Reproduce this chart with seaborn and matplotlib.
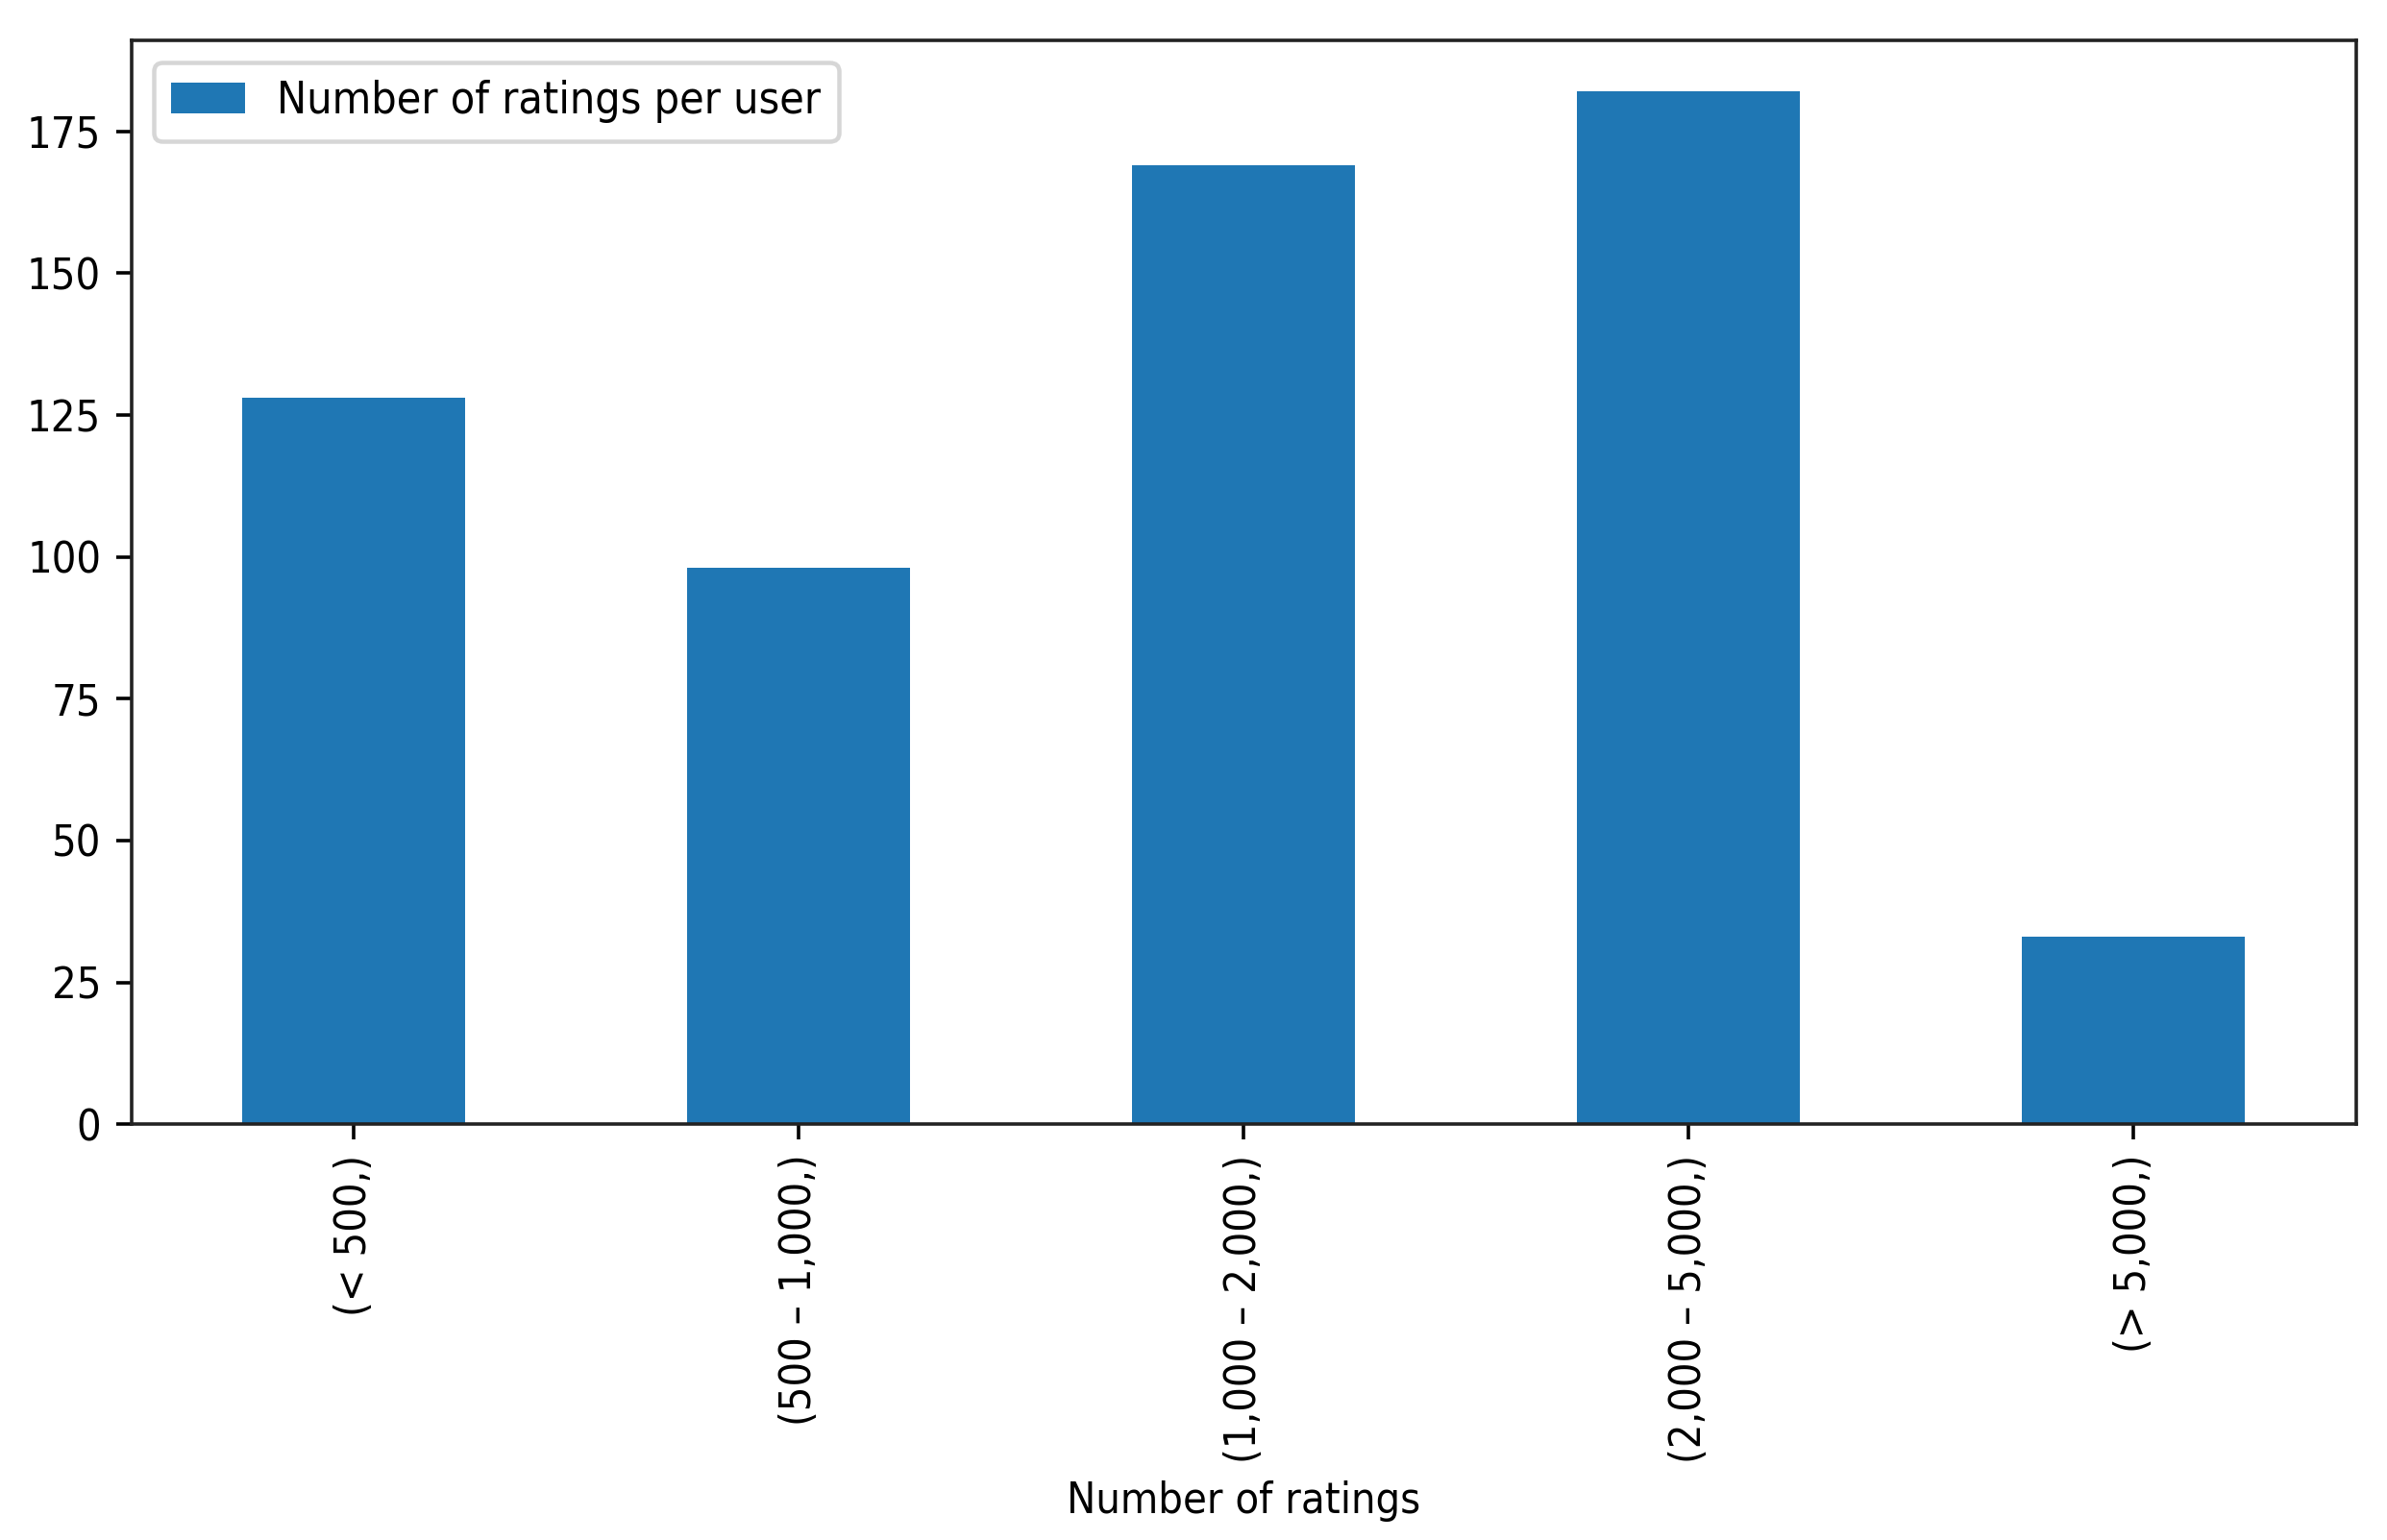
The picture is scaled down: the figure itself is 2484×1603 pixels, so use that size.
import seaborn as sns
import matplotlib.pyplot as plt
import pandas as pd

# Werte aus dem Diagramm
rating_bins = ["(< 500,)", "(500 – 1,000,)", "(1,000 – 2,000,)", "(2,000 – 5,000,)", "(> 5,000,)"]
user_counts = [128, 98, 169, 182, 33]

df = pd.DataFrame({"Number of ratings": rating_bins, "users": user_counts})

plt.rcParams["font.family"] = ["DejaVu Sans Condensed", "DejaVu Sans"]
plt.rcParams["font.stretch"] = "condensed"
plt.rcParams["font.size"] = 10

fig = plt.figure(figsize=(2484 / 324, 1603 / 324), dpi=324)
ax = fig.add_axes([0.055, 0.270, 0.932, 0.704])

sns.barplot(data=df, x="Number of ratings", y="users", color="#1f77b4",
            saturation=1, width=0.5, label="Number of ratings per user", ax=ax)

ax.set_xlim(-0.5, len(rating_bins) - 0.5)
ax.set_ylim(bottom=0)
ax.set_ylabel("")
ax.set_xlabel("Number of ratings")
ax.tick_params(axis="x", labelrotation=90)
for sp in ax.spines.values():
    sp.set_color("#222222")

# Legende oben links
ax.legend(loc="upper left", handlelength=1.65, handletextpad=0.72, fontsize=10.3)

plt.savefig("out.png", dpi=324)
